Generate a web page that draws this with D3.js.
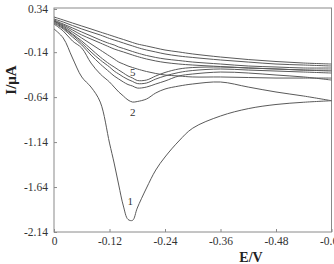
<!DOCTYPE html>
<html>
<head>
<meta charset="utf-8">
<script src="https://cdn.jsdelivr.net/npm/d3@7"></script>
<style>
  body { margin: 0; background: #fff; }
  svg { display: block; }
</style>
</head>
<body>
<svg id="cv" width="334" height="264"></svg>
<script>
// potential (V), same grid for every scan
const potential = [0, -0.02, -0.04, -0.06, -0.08, -0.10, -0.12, -0.13, -0.14, -0.15, -0.16, -0.17,
  -0.18, -0.20, -0.22, -0.24, -0.27, -0.30, -0.36, -0.42, -0.48, -0.54, -0.60];

// current (uA) for each scan
const curve1 = [0.118, 0.017, -0.205, -0.416, -0.528, -0.695, -1.151, -1.373, -1.618, -1.851, -2.00, -2.01,
  -1.874, -1.651, -1.451, -1.306, -1.128, -0.985, -0.850, -0.768, -0.722, -0.697, -0.680];
const curve2 = [0.173, 0.095, -0.016, -0.094, -0.261, -0.383, -0.472, -0.528, -0.583, -0.628, -0.672, -0.695,
  -0.689, -0.661, -0.594, -0.550, -0.517, -0.494, -0.472, -0.528, -0.583, -0.628, -0.680];
const curve3 = [0.184, 0.118, 0.029, -0.060, -0.172, -0.272, -0.361, -0.405, -0.439, -0.472, -0.500, -0.517,
  -0.539, -0.528, -0.494, -0.461, -0.405, -0.383, -0.361, -0.372, -0.394, -0.416, -0.450];
const curve4 = [0.195, 0.129, 0.051, -0.038, -0.138, -0.227, -0.305, -0.350, -0.383, -0.416, -0.444, -0.466,
  -0.489, -0.483, -0.439, -0.405, -0.366, -0.344, -0.327, -0.339, -0.350, -0.361, -0.372];
const curve5 = [0.207, 0.140, 0.062, -0.016, -0.105, -0.194, -0.272, -0.305, -0.339, -0.372, -0.405, -0.428,
  -0.455, -0.450, -0.405, -0.366, -0.327, -0.311, -0.305, -0.316, -0.327, -0.339, -0.350];
const curve6 = [0.207, 0.151, 0.084, 0.017, -0.049, -0.116, -0.183, -0.216, -0.250, -0.272, -0.294, -0.311,
  -0.327, -0.355, -0.377, -0.394, -0.405, -0.416, -0.416, -0.422, -0.428, -0.428, -0.428];
const curve7 = [0.207, 0.162, 0.107, 0.051, 0.006, -0.038, -0.083, -0.105, -0.122, -0.138, -0.155, -0.172,
  -0.188, -0.216, -0.238, -0.255, -0.272, -0.283, -0.300, -0.316, -0.327, -0.339, -0.339];
const curve8 = [0.218, 0.173, 0.129, 0.084, 0.040, -0.005, -0.044, -0.060, -0.083, -0.099, -0.116, -0.133,
  -0.149, -0.177, -0.199, -0.216, -0.233, -0.250, -0.272, -0.294, -0.305, -0.316, -0.316];
const curve9 = [0.229, 0.195, 0.156, 0.118, 0.084, 0.051, 0.012, -0.005, -0.021, -0.038, -0.055, -0.071,
  -0.088, -0.116, -0.138, -0.160, -0.183, -0.199, -0.227, -0.250, -0.272, -0.283, -0.294];
const curve10 = [0.251, 0.218, 0.184, 0.151, 0.118, 0.084, 0.051, 0.034, 0.017, 0.001, -0.016, -0.033,
  -0.049, -0.071, -0.094, -0.116, -0.138, -0.160, -0.194, -0.222, -0.244, -0.261, -0.272];

const xTicks = [0, -0.12, -0.24, -0.36, -0.48, -0.60];
const yTicks = [0.34, -0.14, -0.64, -1.14, -1.64, -2.14];

// curve labels: text, potential, current
const labels = [
  { text: "1", e: -0.165, i: -1.80 },
  { text: "2", e: -0.17, i: -0.81 },
  { text: "5", e: -0.17, i: -0.36 }
];

const svg = d3.select("#cv");
const fontF = "'Liberation Serif', 'DejaVu Serif', serif";

const x = d3.scaleLinear().domain([0, -0.60]).range([54, 331.5]);
const y = d3.scaleLinear().domain([-2.14, 0.34]).range([232, 9]);

// frame
svg.append("rect")
  .attr("x", 54).attr("y", 8)
  .attr("width", 277.5).attr("height", 224)
  .attr("fill", "none")
  .attr("stroke", "#8a8a8a")
  .attr("stroke-width", 1);

// 坐标轴
const yAxis = svg.append("g")
  .attr("transform", "translate(54,0)")
  .call(d3.axisLeft(y).tickValues(yTicks).tickSize(-3).tickPadding(6)
    .tickFormat(d => d.toFixed(2)));
const xAxis = svg.append("g")
  .attr("transform", "translate(0,232)")
  .call(d3.axisBottom(x).tickValues(xTicks).tickSize(-3).tickPadding(5)
    .tickFormat(d => d === 0 ? "0" : d.toFixed(2)));

[yAxis, xAxis].forEach(g => {
  g.select(".domain").remove();
  g.selectAll(".tick line").attr("stroke", "#8a8a8a");
  g.selectAll("text")
    .attr("font-family", fontF)
    .attr("font-size", "11.5px")
    .attr("fill", "#333");
});

// axis titles
svg.append("text")
  .attr("transform", "translate(15.5,80) rotate(-90)")
  .attr("text-anchor", "middle")
  .attr("font-family", fontF)
  .attr("font-weight", "bold")
  .attr("font-size", "15px")
  .attr("fill", "#222")
  .text("I/μA");

svg.append("text")
  .attr("x", 251).attr("y", 262)
  .attr("text-anchor", "middle")
  .attr("font-family", fontF)
  .attr("font-weight", "bold")
  .attr("font-size", "14px")
  .attr("fill", "#222")
  .text("E/V");

// curves
const series = [curve1, curve2, curve3, curve4, curve5, curve6, curve7, curve8, curve9, curve10];
const line = d3.line()
  .x((d, i) => x(potential[i]))
  .y(d => y(d))
  .curve(d3.curveCatmullRom.alpha(0.5));

svg.append("g").selectAll("path")
  .data(series)
  .enter()
  .append("path")
  .attr("d", line)
  .attr("fill", "none")
  .attr("stroke", "#5a5a5a")
  .attr("stroke-width", 1);

svg.append("g").selectAll("text")
  .data(labels)
  .enter()
  .append("text")
  .attr("x", d => x(d.e))
  .attr("y", d => y(d.i))
  .attr("text-anchor", "middle")
  .attr("dy", "0.35em")
  .attr("font-family", fontF)
  .attr("font-size", "11px")
  .attr("fill", "#333")
  .text(d => d.text);
</script>
</body>
</html>
